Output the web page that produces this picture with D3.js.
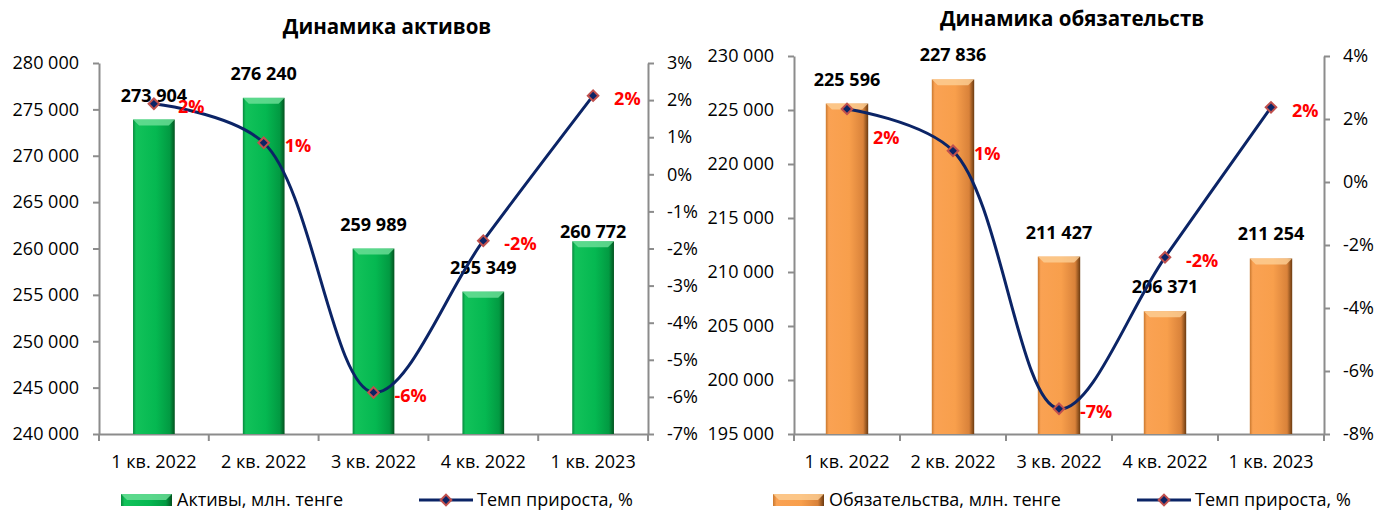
<!DOCTYPE html>
<html>
<head>
<meta charset="utf-8">
<script src="https://cdn.jsdelivr.net/npm/d3@7"></script>
<style>
  body { margin: 0; background: #fff; }
  svg { font-family: "Open Sans", sans-serif; }
</style>
</head>
<body>
<svg id="chart" width="1378" height="511"></svg>
<script>
// Quarters shared by both charts
const quarters = ["1 кв. 2022", "2 кв. 2022", "3 кв. 2022", "4 кв. 2022", "1 кв. 2023"];

// Assets, mln tenge, and growth %
const assets = [273904, 276240, 259989, 255349, 260772];
const assetsGrowth = [1.9, 0.85, -5.88, -1.79, 2.12];
const assetsTicks = [240000, 245000, 250000, 255000, 260000, 265000, 270000, 275000, 280000];
const assetsGrowthTicks = [-7, -6, -5, -4, -3, -2, -1, 0, 1, 2, 3];

// Liabilities, mln tenge, and growth %
const liabilities = [225596, 227836, 211427, 206371, 211254];
const liabilitiesGrowth = [2.32, 0.99, -7.2, -2.39, 2.37];
const liabilitiesTicks = [195000, 200000, 205000, 210000, 215000, 220000, 225000, 230000];
const liabilitiesGrowthTicks = [-8, -6, -4, -2, 0, 2, 4];

const fmt = v => d3.format(",")(v).replace(/,/g, " ");
const svg = d3.select("#chart");
const defs = svg.append("defs");

// gradients for the bevelled bars
function barGradient(id, stops) {
  const gr = defs.append("linearGradient").attr("id", id)
    .attr("x1", "0").attr("x2", "1").attr("y1", "0").attr("y2", "0");
  stops.forEach(s => gr.append("stop").attr("offset", s[0]).attr("stop-color", s[1]));
}
barGradient("gGreen", [["0%", "#07883d"], ["7%", "#12c25a"], ["55%", "#05b851"], ["88%", "#029a42"], ["100%", "#03521f"]]);
barGradient("gOrange", [["0%", "#c9782f"], ["7%", "#faa253"], ["55%", "#f89f4c"], ["88%", "#d9823a"], ["100%", "#6b3a10"]]);

function bevel(sel, x, y, w, h, fill, top) {
  sel.append("rect").attr("x", x).attr("y", y).attr("width", w).attr("height", h)
    .attr("fill", `url(#${fill})`);
  const b = Math.min(6, h / 2);
  sel.append("path")
    .attr("d", `M${x},${y}H${x + w}L${x + w - b},${y + b}H${x + b}Z`)
    .attr("fill", top).attr("opacity", 0.8);
}

function diamond(sel, cx, cy) {
  sel.append("path")
    .attr("d", d3.symbol(d3.symbolSquare, 56)())
    .attr("transform", `translate(${cx},${cy}) rotate(45)`)
    .attr("fill", "#0b2466")
    .attr("stroke", "#c0504d")
    .attr("stroke-width", 2);
}

function drawChart(opt) {
  const g = svg.append("g");

  const x = d3.scaleBand()
    .domain(quarters)
    .range([opt.left, opt.right])
    .paddingInner(opt.pad)
    .paddingOuter(opt.pad / 2);
  const bw = x.bandwidth();
  const step = x.step();
  const cx = q => x(q) + bw / 2;

  const y = d3.scaleLinear().domain(d3.extent(opt.ticks)).range([opt.bottom, opt.top]);
  const y2 = d3.scaleLinear().domain(d3.extent(opt.gTicks)).range([opt.bottom, opt.top]);

  // title
  g.append("text")
    .attr("x", opt.titleX).attr("y", opt.titleY)
    .attr("text-anchor", "middle")
    .attr("font-weight", "bold").attr("font-size", 20.5)
    .text(opt.title);

  // left axis
  const yAxis = g.append("g")
    .attr("transform", `translate(${opt.left},0)`)
    .call(d3.axisLeft(y).tickValues(opt.ticks).tickFormat(fmt).tickSize(6).tickSizeOuter(0).tickPadding(14));

  // right axis
  const y2Axis = g.append("g")
    .attr("transform", `translate(${opt.right},0)`)
    .call(d3.axisRight(y2).tickValues(opt.gTicks).tickFormat(d => d + "%").tickSize(6).tickSizeOuter(0).tickPadding(13));

  // bottom axis: labels at band centres, ticks on boundaries
  const xAxis = g.append("g")
    .attr("transform", `translate(0,${opt.bottom})`)
    .call(d3.axisBottom(x).tickSize(0).tickSizeOuter(0).tickPadding(21));
  const bounds = quarters.map(q => x(q) - (step - bw) / 2).concat([opt.right]);
  xAxis.selectAll(".bound").data(bounds).enter().append("line")
    .attr("class", "bound")
    .attr("x1", d => d).attr("x2", d => d)
    .attr("y1", 0).attr("y2", 7);

  [yAxis, y2Axis, xAxis].forEach(a => {
    a.selectAll(".domain, line").attr("stroke", "#8c8c8c").attr("stroke-width", 2);
    a.selectAll("text").attr("font-size", 18).attr("fill", "#000").attr("font-family", "Open Sans");
  });

  // bars
  const bars = g.append("g");
  opt.values.forEach((v, i) => {
    bevel(bars, x(quarters[i]), y(v), bw, opt.bottom - y(v), opt.fill, opt.topColor);
  });

  // value labels
  g.append("g").selectAll("text").data(opt.values).enter().append("text")
    .attr("x", (d, i) => cx(quarters[i]))
    .attr("y", (d, i) => y(d) - 24 + 6 + (opt.valueNudge[i] || 0))
    .attr("text-anchor", "middle")
    .attr("font-weight", "bold").attr("font-size", 18)
    .text(fmt);

  // growth line
  const line = d3.line()
    .x((d, i) => cx(quarters[i]))
    .y(d => y2(d))
    .curve(d3.curveCatmullRom.alpha(0.5));
  g.append("path")
    .attr("d", line(opt.growth))
    .attr("fill", "none")
    .attr("stroke", "#0b2466")
    .attr("stroke-width", 3);

  const marks = g.append("g");
  opt.growth.forEach((v, i) => diamond(marks, cx(quarters[i]), y2(v)));

  // growth labels
  g.append("g").selectAll("text").data(opt.growth).enter().append("text")
    .attr("x", (d, i) => cx(quarters[i]) + 21 + (opt.growthNudgeX[i] || 0))
    .attr("y", (d, i) => y2(d) + 3 + (opt.growthNudge[i] || 0))
    .attr("dy", "0.35em")
    .attr("fill", "#ff0000")
    .attr("font-weight", "bold").attr("font-size", 18)
    .text(d => Math.round(d) + "%");

  // legend
  const lg = g.append("g").attr("transform", `translate(0,${opt.legendY})`);
  bevel(lg, opt.legendX, -6, 51, 12, opt.fill, opt.topColor);
  lg.append("text").attr("x", opt.legendX + 56).attr("y", 0).attr("dy", "0.35em")
    .attr("font-size", 18).text(opt.seriesName);
  const lx = opt.legendX2;
  lg.append("line").attr("x1", lx).attr("x2", lx + 54).attr("y1", 0).attr("y2", 0)
    .attr("stroke", "#0b2466").attr("stroke-width", 3);
  diamond(lg, lx + 27, 0);
  lg.append("text").attr("x", lx + 58).attr("y", 0).attr("dy", "0.35em")
    .attr("font-size", 18).text("Темп прироста, %");
}

drawChart({
  title: "Динамика активов", titleX: 387, titleY: 34,
  left: 99, right: 648, top: 63, bottom: 434, pad: 0.62,
  values: assets, growth: assetsGrowth,
  ticks: assetsTicks, gTicks: assetsGrowthTicks,
  fill: "gGreen", topColor: "#6fe09a",
  valueNudge: [0, 0, 0, 0, 15], growthNudge: [], growthNudgeX: [3],
  seriesName: "Активы, млн. тенге",
  legendY: 500, legendX: 121, legendX2: 419
});

drawChart({
  title: "Динамика обязательств", titleX: 1072, titleY: 26,
  left: 794, right: 1324, top: 56, bottom: 434, pad: 0.6,
  values: liabilities, growth: liabilitiesGrowth,
  ticks: liabilitiesTicks, gTicks: liabilitiesGrowthTicks,
  fill: "gOrange", topColor: "#fdcf96",
  valueNudge: [], growthNudge: [26], growthNudgeX: [5],
  seriesName: "Обязательства, млн. тенге",
  legendY: 500, legendX: 773, legendX2: 1137
});
</script>
</body>
</html>
